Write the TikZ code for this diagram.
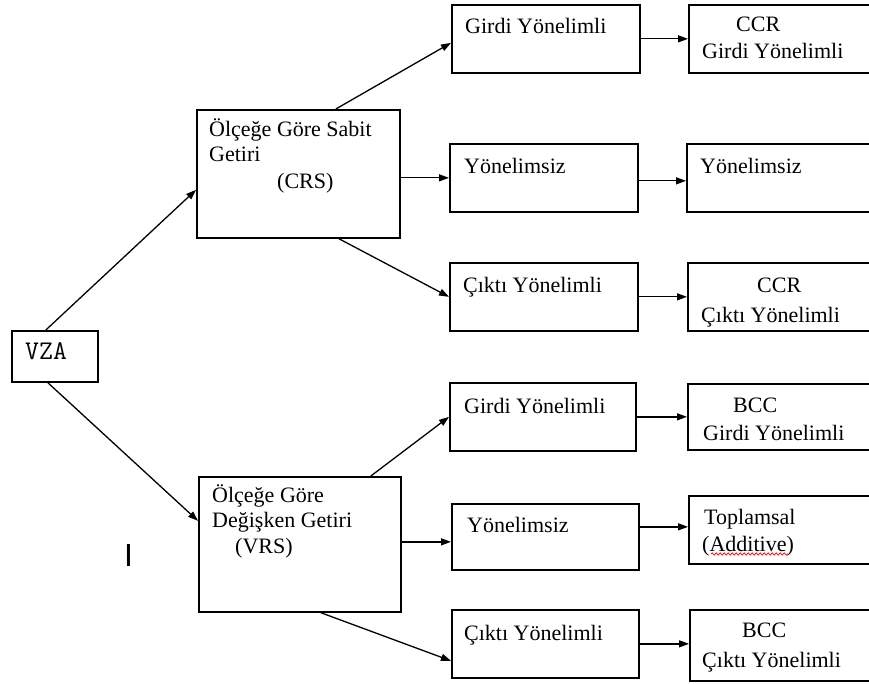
\documentclass[tikz,border=0pt]{standalone}
\usepackage{fontspec}
\setmainfont{Liberation Serif}
\newfontfamily\sansfnt{Liberation Sans}
\usetikzlibrary{arrows.meta,decorations.pathmorphing}
\begin{document}
\begin{tikzpicture}[x=1pt,y=-1pt,
  box/.style={draw,line width=1.7pt,inner sep=0pt,anchor=north west},
  arr/.style={line width=1.3pt,-{Triangle[length=10pt,width=7pt]}},
  txt/.style={anchor=base west,inner sep=0pt,font=\fontsize{22}{25}\selectfont}]
\clip (0,0) rectangle (869,684);
\fill[white] (0,0) rectangle (869,684);
% boxes
\node[box,minimum width=86pt,minimum height=51pt] (vza) at (11,330) {};
\node[box,minimum width=203pt,minimum height=128pt] (crs) at (196,109) {};
\node[box,minimum width=202pt,minimum height=135pt] (vrs) at (198,476) {};
\node[box,minimum width=188pt,minimum height=68pt] (a1) at (451,4) {};
\node[box,minimum width=192pt,minimum height=68pt] (b1) at (688,4) {};
\node[box,minimum width=188pt,minimum height=68pt] (a2) at (449,143) {};
\node[box,minimum width=194pt,minimum height=68pt] (b2) at (686,143) {};
\node[box,minimum width=188pt,minimum height=68pt] (a3) at (449,262) {};
\node[box,minimum width=193pt,minimum height=68pt] (b3) at (687,262) {};
\node[box,minimum width=186pt,minimum height=68pt] (a4) at (449,382) {};
\node[box,minimum width=193pt,minimum height=66pt] (b4) at (687,383) {};
\node[box,minimum width=187pt,minimum height=66pt] (a5) at (451,503) {};
\node[box,minimum width=192pt,minimum height=68pt] (b5) at (688,495) {};
\node[box,minimum width=187pt,minimum height=68pt] (a6) at (451,609) {};
\node[box,minimum width=191pt,minimum height=71pt] (b6) at (689,609) {};
% texts
\node[anchor=base west,inner sep=0pt,font=\ttfamily\fontsize{27}{29}\selectfont] (tvza) at (25,359) {VZA};
\node[txt] (tcrs1) at (209,137) {Ölçeğe Göre Sabit};
\node[txt] (tcrs2) at (209,162) {Getiri};
\node[txt] (tcrs3) at (277,189) {(CRS)};
\node[txt] (tvrs1) at (212,502) {Ölçeğe Göre};
\node[txt] (tvrs2) at (212,527) {Değişken Getiri};
\node[txt] (tvrs3) at (235,553) {(VRS)};
\node[txt] (ta1) at (465,34) {Girdi Yönelimli};
\node[txt] (tb1a) at (736,32) {CCR};
\node[txt] (tb1b) at (702,59) {Girdi Yönelimli};
\node[txt] (ta2) at (464,174) {Yönelimsiz};
\node[txt] (tb2) at (700,174) {Yönelimsiz};
\node[txt] (ta3) at (463,293) {Çıktı Yönelimli};
\node[txt] (tb3a) at (757,292) {CCR};
\node[txt] (tb3b) at (701,322) {Çıktı Yönelimli};
\node[txt] (ta4) at (464,413) {Girdi Yönelimli};
\node[txt] (tb4a) at (733,412) {BCC};
\node[txt] (tb4b) at (703,440) {Girdi Yönelimli};
\node[txt] (ta5) at (467,532) {Yönelimsiz};
\node[txt] (tb5a) at (704,524) {Toplamsal};
\node[txt] (tb5b) at (702,551) {(Additive)};
\node[txt] (ta6) at (464,640) {Çıktı Yönelimli};
\node[txt] (tb6a) at (742,637) {BCC};
\node[txt] (tb6b) at (702,667) {Çıktı Yönelimli};
\node[anchor=base west,inner sep=0pt,font=\sansfnt\fontsize{32}{34}\selectfont] (mark) at (124,566) {I};
% spell-check squiggle
\draw[red,line width=0.7pt,decorate,decoration={snake,amplitude=1.2pt,segment length=4pt}] (711,554) -- (788,554);
% connectors
\draw[arr] ([xshift=-9pt]vza.north) -- ([yshift=-16pt]crs.west);
\draw[arr] ([xshift=-7pt]vza.south) -- ([yshift=23.5pt]vrs.west);
\draw[arr] ([xshift=37.5pt]crs.north) -- ([yshift=-4pt]a1.west);
\draw[arr] (crs.east |- a2.west) -- (a2.west);
\draw[arr] ([xshift=40.5pt]crs.south) -- (a3.west);
\draw[arr] ([xshift=71pt]vrs.north) -- (a4.west);
\draw[arr] ([yshift=-5pt]vrs.east |- a5.west) -- ([yshift=-5pt]a5.west);
\draw[arr] ([xshift=21pt]vrs.south) -- ([yshift=-17pt]a6.west);
\draw[arr] (a1.east) -- (a1.east -| b1.west);
\draw[arr] ([yshift=-3pt]a2.east) -- ([yshift=-3pt]a2.east -| b2.west);
\draw[arr] (a3.east) -- (a3.east -| b3.west);
\draw[arr] (a4.east) -- (a4.east -| b4.west);
\draw[arr] ([yshift=10pt]a5.east) -- ([yshift=10pt]a5.east -| b5.west);
\draw[arr] (a6.east) -- (a6.east -| b6.west);
\end{tikzpicture}
\end{document}
